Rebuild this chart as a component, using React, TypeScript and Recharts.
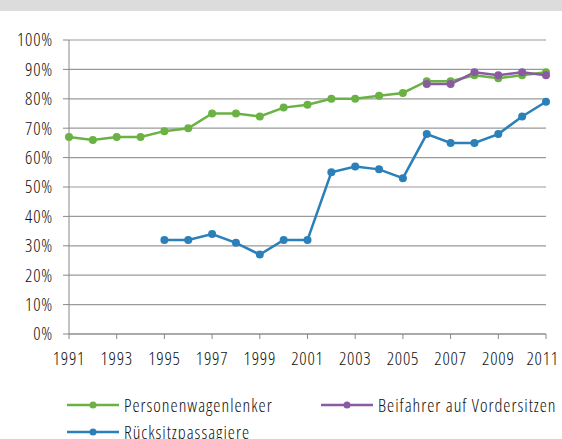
import React from 'react';
import { LineChart, Line, XAxis, YAxis, CartesianGrid, Legend } from 'recharts';

const years = [1991, 1992, 1993, 1994, 1995, 1996, 1997, 1998, 1999, 2000, 2001, 2002, 2003, 2004, 2005, 2006, 2007, 2008, 2009, 2010, 2011];
const lenker = [67, 66, 67, 67, 69, 70, 75, 75, 74, 77, 78, 80, 80, 81, 82, 86, 86, 88, 87, 88, 89];
const beifahrer = [null, null, null, null, null, null, null, null, null, null, null, null, null, null, null, 85, 85, 89, 88, 89, 88];
const ruecksitz = [null, null, null, null, 32, 32, 34, 31, 27, 32, 32, 55, 57, 56, 53, 68, 65, 65, 68, 74, 79];
const xTicks = [1991, 1993, 1995, 1997, 1999, 2001, 2003, 2005, 2007, 2009, 2011];
const yTicks = [0, 10, 20, 30, 40, 50, 60, 70, 80, 90, 100];

const seriesNames = ['Personenwagenlenker', 'Beifahrer auf Vordersitzen', 'Rücksitzpassagiere'];
const colors = ['#6bb244', '#8a5aa2', '#2b80b9'];

const data = years.map((y, i) => ({ year: y, lenker: lenker[i], beifahrer: beifahrer[i], ruecksitz: ruecksitz[i] }));

const FONT = '"Open Sans", sans-serif';
const TEXT = '#111';

const LegendItem = ({ color, label, left, top }: { color: string; label: string; left: number; top: number }) => (
  <div style={{ position: 'absolute', left, top, display: 'flex', alignItems: 'center', height: 20, lineHeight: '20px' }}>
    <svg width={52} height={12} style={{ display: 'block' }}>
      <line x1={0} y1={6} x2={52} y2={6} stroke={color} strokeWidth={2.5} />
      <circle cx={26} cy={6} r={3.5} fill={color} />
    </svg>
    <span style={{ marginLeft: 5, fontFamily: FONT, fontStretch: '87.5%', fontWeight: 300, fontSize: 18, letterSpacing: 1, color: TEXT, whiteSpace: 'nowrap' }}>{label}</span>
  </div>
);

const CustomLegend = () => (
  <div style={{ position: 'relative', width: 562, height: 75 }}>
    <LegendItem color={colors[0]} label={seriesNames[0]} left={67} top={31} />
    <LegendItem color={colors[1]} label={seriesNames[1]} left={321} top={31} />
    <LegendItem color={colors[2]} label={seriesNames[2]} left={67} top={58} />
  </div>
);

const tickStyle = { fill: TEXT, fontSize: 18, fontFamily: FONT, fontStretch: '87.5%', fontWeight: 300, letterSpacing: 0.8 };

export default function App() {
  return (
    <div style={{ position: 'absolute', left: 0, top: 0, width: 562, height: 439, background: '#fff', overflow: 'hidden' }}>
      <div style={{ position: 'absolute', left: 0, top: 0, width: 562, height: 11, background: '#dcdcdc' }} />
      <LineChart width={562} height={439} data={data} margin={{ top: 40, right: 16, left: 0, bottom: 0 }}>
        <CartesianGrid vertical={false} stroke="#9a9a9a" strokeWidth={1.2} />
        <XAxis
          dataKey="year"
          type="number"
          domain={[1991, 2011]}
          ticks={xTicks}
          height={30}
          tickSize={5}
          tickMargin={13}
          stroke="#888"
          tick={tickStyle}
        />
        <YAxis
          domain={[0, 100]}
          ticks={yTicks}
          width={69}
          tickSize={6}
          tickMargin={10}
          stroke="#888"
          tickFormatter={(v: number) => `${v}%`}
          tick={tickStyle}
        />
        <Legend verticalAlign="bottom" content={<CustomLegend />} />
        <Line dataKey="lenker" name={seriesNames[0]} stroke={colors[0]} strokeWidth={2.5} dot={{ r: 4, fill: colors[0], stroke: colors[0], strokeWidth: 0 }} isAnimationActive={false} />
        <Line dataKey="ruecksitz" name={seriesNames[2]} stroke={colors[2]} strokeWidth={2.5} dot={{ r: 4, fill: colors[2], stroke: colors[2], strokeWidth: 0 }} isAnimationActive={false} />
        <Line dataKey="beifahrer" name={seriesNames[1]} stroke={colors[1]} strokeWidth={2.5} dot={{ r: 4, fill: colors[1], stroke: colors[1], strokeWidth: 0 }} isAnimationActive={false} />
      </LineChart>
    </div>
  );
}
